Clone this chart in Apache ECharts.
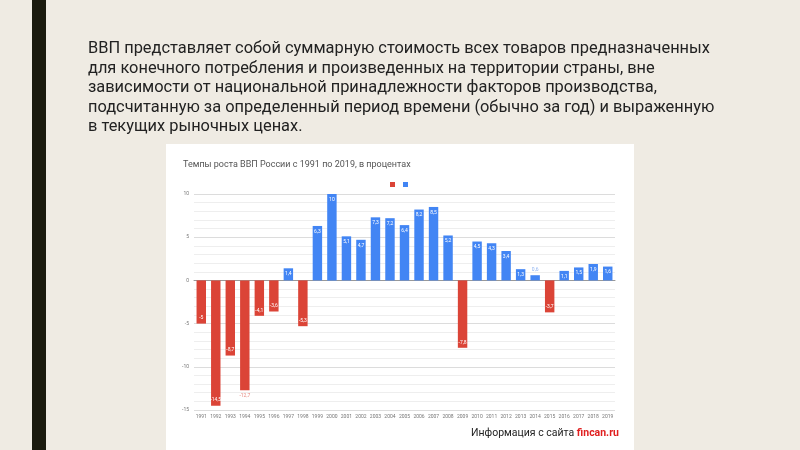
<!DOCTYPE html>
<html><head><meta charset="utf-8">
<script src="https://cdn.jsdelivr.net/npm/echarts@6/dist/echarts.min.js"></script>
<style>html,body{margin:0;padding:0;background:#efebe3}#c{width:800px;height:450px}</style>
</head><body><div id="c"></div>
<script>
const years = ['1991','1992','1993','1994','1995','1996','1997','1998','1999','2000','2001','2002','2003','2004','2005','2006','2007','2008','2009','2010','2011','2012','2013','2014','2015','2016','2017','2018','2019'];
const values = [-5,-14.5,-8.7,-12.7,-4.1,-3.6,1.4,-5.3,6.3,10,5.1,4.7,7.3,7.2,6.4,8.2,8.5,5.2,-7.8,4.5,4.3,3.4,1.3,0.6,-3.7,1.1,1.5,1.9,1.6];
const outsideLabelYears = ['1994','2014'];
const yTicks = {min:-15, max:10, interval:5};
const slideLines = [
 'ВВП представляет собой суммарную стоимость всех товаров предназначенных',
 'для конечного потребления и произведенных на территории страны, вне',
 'зависимости от национальной принадлежности факторов производства,',
 'подсчитанную за определенный период времени (обычно за год) и выраженную',
 'в текущих рыночных ценах.'
];
const chartTitle = 'Темпы роста ВВП России с 1991 по 2019, в процентах';

const RED = '#db4437', BLUE = '#4285f4';
const fmt = v => String(v).replace('.', ',');
function item(v, i, pos){
  const ok = pos ? v >= 0 : v < 0;
  if (!ok) return '-';
  const outside = outsideLabelYears.includes(years[i]);
  return {
    value: v,
    label: outside ? {position: pos ? 'top' : 'bottom', color: pos ? '#8fb3f0' : '#e88a80', distance: 3} : {}
  };
}
const chart = echarts.init(document.getElementById('c'));
const graphics = [
  {type:'rect', shape:{x:32,y:0,width:14,height:450}, style:{fill:'#1a1a0e'}, z:-10},
  {type:'rect', shape:{x:166,y:144,width:468,height:306}, style:{fill:'#ffffff'}, z:-10},
  {type:'text', left:471, top:428, style:{rich:{a:{fill:'#222',font:'10.5px Roboto'},b:{fill:'#e02020',font:'bold 10.5px Roboto'}}, text:'{a|Информация с сайта }{b|fincan.ru}'}}
];
slideLines.forEach((t, i) => graphics.push({type:'text', left:88, top:41 + i*19.5, style:{text:t, fill:'#222', font:'16.4px Roboto'}}));
chart.setOption({
  animation:false,
  title:{text:chartTitle, left:178, top:155, textStyle:{fontFamily:'Roboto', fontSize:9, fontWeight:'normal', color:'#555'}},
  legend:{left:385, top:177, icon:'rect', itemWidth:5, itemHeight:5, itemGap:8, formatter:()=>'', data:['neg','pos']},
  graphic:graphics,
  grid:{left:194, right:185, top:194, bottom:40},
  xAxis:{type:'category', data:years, axisTick:{show:false},
    axisLine:{lineStyle:{color:'#999', width:1}},
    axisLabel:{fontSize:5, color:'#777', interval:0, fontFamily:'Roboto', margin:4}},
  yAxis:{type:'value', min:yTicks.min, max:yTicks.max, interval:yTicks.interval,
    axisLabel:{fontSize:5, color:'#777', fontFamily:'Roboto', margin:5},
    splitLine:{lineStyle:{color:'#dcdcdc'}},
    minorTick:{show:false, splitNumber:5},
    minorSplitLine:{show:true, lineStyle:{color:'#eeeeee'}}},
  series:[
    {name:'neg', type:'bar', stack:'g', color:RED, barCategoryGap:'35%',
      data:values.map((v,i)=>item(v,i,false)),
      label:{show:true, position:'insideBottom', color:'#fff', fontSize:5, fontFamily:'Roboto', formatter:p=>fmt(p.value), distance:3}},
    {name:'pos', type:'bar', stack:'g', color:BLUE, barCategoryGap:'35%',
      data:values.map((v,i)=>item(v,i,true)),
      label:{show:true, position:'insideTop', color:'#fff', fontSize:5, fontFamily:'Roboto', formatter:p=>fmt(p.value), distance:3}}
  ]
});
</script></body></html>
